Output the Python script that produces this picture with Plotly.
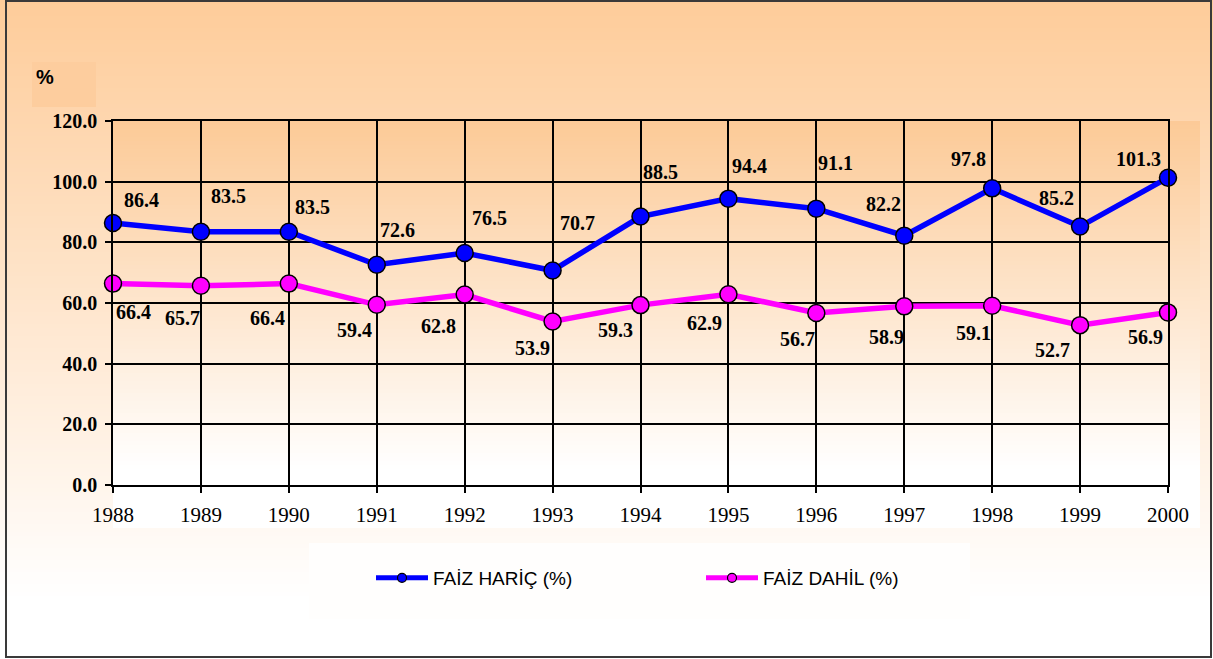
import plotly.graph_objects as go

# ---------------- data ----------------
years = [1988, 1989, 1990, 1991, 1992, 1993, 1994, 1995, 1996, 1997, 1998, 1999, 2000]
faiz_haric = [86.4, 83.5, 83.5, 72.6, 76.5, 70.7, 88.5, 94.4, 91.1, 82.2, 97.8, 85.2, 101.3]
faiz_dahil = [66.4, 65.7, 66.4, 59.4, 62.8, 53.9, 59.3, 62.9, 56.7, 58.9, 59.1, 52.7, 56.9]
series_names = ["FAİZ HARİÇ (%)", "FAİZ DAHİL (%)"]
y_title = "%"

# label offsets (pixels, screen: dx right, dy down) — style only
haric_dx = [28, 28, 24, 21, 25, 25, 20, 21, 19, -21, -24, -24, -30]
haric_dy = [-23, -36, -25, -35, -35, -48, -45, -33, -46, -32, -29, -29, -19]
dahil_dx = [20, -18, -21, -22, -26, -20, -25, -24, -19, -18, -19, -28, -23]
dahil_dy = [28, 32, 34, 25, 31, 26, 25, 29, 26, 31, 27, 25, 25]

# ---------------- layout geometry ----------------
W, H = 1213, 659
L, R, T, B = 113, 45, 121, 174
PW = W - L - R
PH = H - T - B


def pxx(px):
    return (px - L) / PW


def pxy(py):
    return (T + PH - py) / PH


def mix(c0, c1, f):
    f = max(0.0, min(1.0, f))
    return "rgb(%d,%d,%d)" % tuple(round(a + (b - a) * f) for a, b in zip(c0, c1))


ORANGE = (254, 204, 154)
ORANGE_IN = (252, 202, 151)
WHITE = (255, 255, 255)

shapes = []
# outer gradient (whole chart area)
step = 4
for y0 in range(0, H, step):
    y1 = min(H, y0 + step)
    f = ((y0 + y1) / 2) / 600.0
    shapes.append(dict(type="rect", xref="paper", yref="paper", layer="below",
                       x0=pxx(0), x1=pxx(W), y0=pxy(y1), y1=pxy(y0),
                       fillcolor=mix(ORANGE, WHITE, f), line=dict(width=0)))
# inner plot-area gradient
top_in, bot_in = 121, 528
for y0 in range(top_in, bot_in, step):
    y1 = min(bot_in, y0 + step)
    f = ((y0 + y1) / 2 - top_in) / (470 - top_in)
    shapes.append(dict(type="rect", xref="paper", yref="paper", layer="below",
                       x0=pxx(113), x1=pxx(1200), y0=pxy(y1), y1=pxy(y0),
                       fillcolor=mix(ORANGE_IN, WHITE, f), line=dict(width=0)))
# "%" title box
shapes.append(dict(type="rect", xref="paper", yref="paper", layer="below",
                   x0=pxx(32), x1=pxx(96), y0=pxy(107), y1=pxy(62),
                   fillcolor="rgb(253,205,158)", line=dict(width=0)))
# legend box
shapes.append(dict(type="rect", xref="paper", yref="paper", layer="below",
                   x0=pxx(309), x1=pxx(970), y0=pxy(619), y1=pxy(543),
                   fillcolor="rgb(255,254,253)", line=dict(width=0)))
# outer frame
shapes.append(dict(type="rect", xref="paper", yref="paper", layer="above",
                   x0=pxx(6), x1=pxx(1211), y0=pxy(657), y1=pxy(1),
                   fillcolor="rgba(0,0,0,0)", line=dict(color="#3a3a3a", width=2)))

fig = go.Figure()

fig.add_trace(go.Scatter(
    x=years, y=faiz_haric, mode="lines+markers", name=series_names[0],
    line=dict(color="#0000FF", width=5.5),
    marker=dict(size=17, color="#0000FF", line=dict(color="black", width=1.5)),
    cliponaxis=False, showlegend=False))
fig.add_trace(go.Scatter(
    x=years, y=faiz_dahil, mode="lines+markers", name=series_names[1],
    line=dict(color="#FF00FF", width=5.5),
    marker=dict(size=17, color="#FF00FF", line=dict(color="black", width=1.5)),
    cliponaxis=False, showlegend=False))

# legend entries (styled smaller, like the original legend)
fig.add_trace(go.Scatter(
    x=[None], y=[None], mode="lines+markers", name=series_names[0],
    line=dict(color="#0000FF", width=5),
    marker=dict(size=9, color="#0000FF", line=dict(color="black", width=1.2))))
fig.add_trace(go.Scatter(
    x=[None], y=[None], mode="lines+markers", name=series_names[1],
    line=dict(color="#FF00FF", width=5),
    marker=dict(size=9, color="#FF00FF", line=dict(color="black", width=1.2))))

label_font = dict(family="Liberation Serif", size=20, color="black", weight="bold")
annotations = []
for x, v, dx, dy in zip(years, faiz_haric, haric_dx, haric_dy):
    annotations.append(dict(x=x, y=v, xref="x", yref="y", text="%.1f" % v,
                            showarrow=False, xshift=dx, yshift=-dy,
                            xanchor="center", yanchor="middle", font=label_font))
for x, v, dx, dy in zip(years, faiz_dahil, dahil_dx, dahil_dy):
    annotations.append(dict(x=x, y=v, xref="x", yref="y", text="%.1f" % v,
                            showarrow=False, xshift=dx, yshift=-dy,
                            xanchor="center", yanchor="middle", font=label_font))
annotations.append(dict(x=pxx(45), y=pxy(77), xref="paper", yref="paper",
                        text=y_title, showarrow=False, xanchor="center", yanchor="middle",
                        font=dict(family="Liberation Sans", size=20, color="black", weight="bold")))

fig.update_layout(
    width=W, height=H, autosize=False,
    margin=dict(l=L, r=R, t=T, b=B, pad=0),
    paper_bgcolor="white", plot_bgcolor="rgba(0,0,0,0)",
    shapes=shapes, annotations=annotations,
    showlegend=True,
    legend=dict(orientation="h", x=pxx(371), y=pxy(578), xanchor="left", yanchor="middle",
                bgcolor="rgba(0,0,0,0)", borderwidth=0, itemwidth=52,
                entrywidth=263, entrywidthmode="pixels",
                font=dict(family="Liberation Sans", size=19, color="black")),
    xaxis=dict(range=[years[0], years[-1]], tickmode="array", tickvals=years,
               ticktext=[str(y) for y in years],
               showgrid=True, gridcolor="black", gridwidth=1.5,
               showline=True, linecolor="black", linewidth=1.5, mirror=True,
               ticks="outside", ticklen=6, tickcolor="black", tickwidth=1.5,
               ticklabelstandoff=4,
               tickfont=dict(family="Liberation Serif", size=21, color="black"),
               zeroline=False, fixedrange=True),
    yaxis=dict(range=[0, 120], tickmode="linear", tick0=0, dtick=20, tickformat=".1f",
               showgrid=True, gridcolor="black", gridwidth=1.5,
               showline=True, linecolor="black", linewidth=1.5, mirror=True,
               ticks="outside", ticklen=6, tickcolor="black", tickwidth=1.5,
               ticklabelstandoff=4,
               tickfont=dict(family="Liberation Serif", size=20, color="black", weight="bold"),
               zeroline=False, fixedrange=True),
)

fig.write_html(
    "out.html",
    config={"displayModeBar": False},
    post_script="document.body.style.margin='0';document.body.style.overflow='hidden';",
)
